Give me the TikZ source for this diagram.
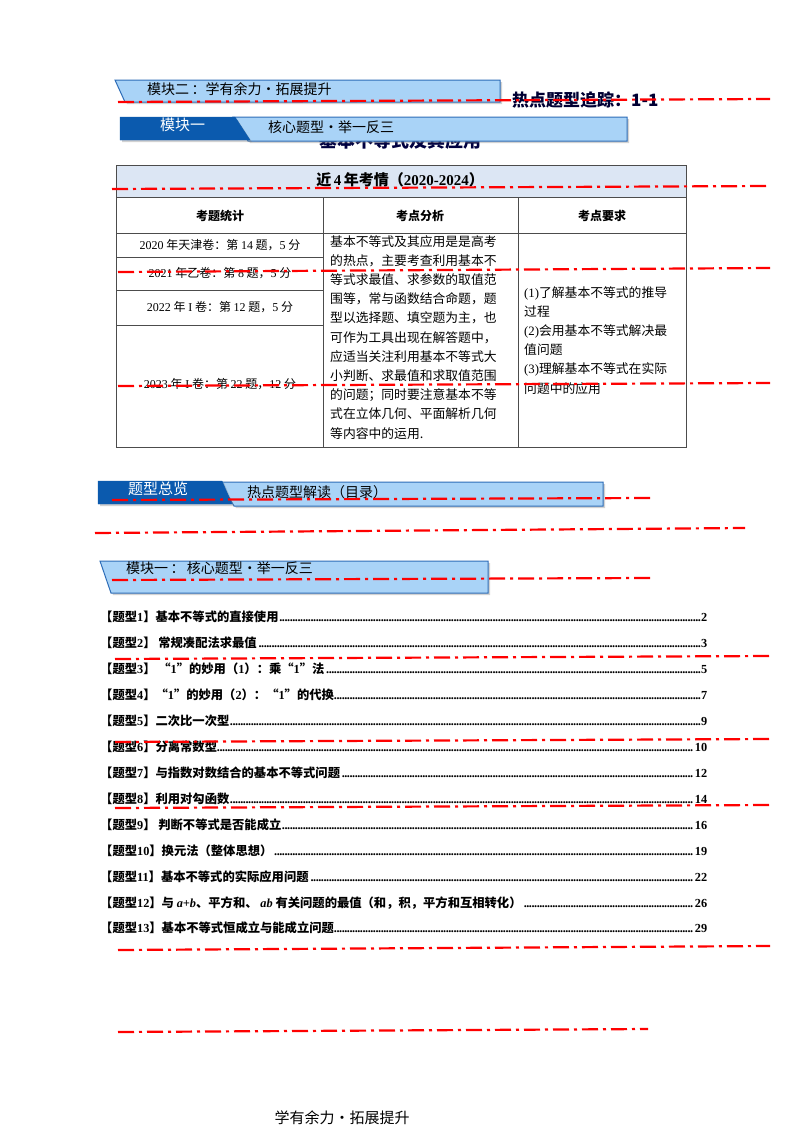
\documentclass[tikz,border=0pt]{standalone}
\usepackage{fontspec}
\setmainfont{Noto Sans CJK SC}
\newfontfamily\serifnum{Liberation Serif}
\usetikzlibrary{shadows}
\definecolor{lb}{HTML}{A9D3F7}
\definecolor{db}{HTML}{0B5AAE}
\definecolor{bd}{HTML}{2E6DB8}
\definecolor{tt}{HTML}{DCE6F4}
\newcommand{\densedots}{\leaders\hbox to 2.6pt{\hss\serifnum .\hss}\hfill}
\tikzset{
  x=1pt,y=-1pt,
  redl/.style={red, line width=2.2pt, dash pattern=on 16pt off 5pt on 3pt off 5pt},
  light/.style={fill=lb, draw=bd, line width=1pt, drop shadow={shadow xshift=2pt,shadow yshift=-2pt,opacity=0.35}},
  dark/.style={fill=db, draw=db, drop shadow={shadow xshift=2pt,shadow yshift=-2pt,opacity=0.35}},
  btxt/.style={anchor=west, font=\fontsize{14}{16}\selectfont, inner sep=0pt},
  wtxt/.style={anchor=west, font=\fontsize{15}{17}\selectfont, text=white, inner sep=0pt},
  cell/.style={draw=black!70, line width=0.8pt},
  item/.style={anchor=west, inner sep=0pt, font=\bfseries\fontsize{12.3}{14}\selectfont},
  tc/.style={font=\fontsize{12}{14}\selectfont, inner sep=0pt},
  th/.style={font=\bfseries\fontsize{12}{14}\selectfont, inner sep=0pt},
}
\begin{document}
\begin{tikzpicture}
\useasboundingbox (0,0) rectangle (800,1132);
\fill[white] (0,0) rectangle (800,1132);
% header banner A
\path[light] (115,80) -- (500,80) -- (500,102) -- (125,102) -- cycle;
\node[btxt] (ba) at (147,89) {模块二\,：学有余力·拓展提升};
\node[anchor=west, inner sep=0pt, font=\bfseries\fontsize{17}{19}\selectfont, text=black!80!blue] (hot) at (512,100) {热点题型追踪：1-1};
% hidden title
\node[inner sep=0pt, font=\bfseries\fontsize{18}{20}\selectfont, text=black!75!blue] (ttl) at (400,141) {基本不等式及其应用};
% banner B
\path[light] (233,117) -- (627,117) -- (627,141) -- (248,141) -- cycle;
\path[dark] (120,117) -- (235,117) -- (250,140) -- (120,140) -- cycle;
\node[wtxt] (bb1) at (160,125) {模块一};
\node[btxt] (bb2) at (268,127) {核心题型·举一反三};
% table
\fill[tt] (116,165) rectangle (686,197);
\draw[cell] (116,165) rectangle (686,447);
\draw[cell] (116,197) -- (686,197);
\draw[cell] (116,233) -- (686,233);
\draw[cell] (323,197) -- (323,447) (518,197) -- (518,447);
\draw[cell] (116,257) -- (323,257) (116,290) -- (323,290) (116,325) -- (323,325);
\node[font=\bfseries\fontsize{15}{17}\selectfont] (th) at (400,180) {近\,{\serifnum\bfseries 4}\,年考情（{\serifnum\bfseries 2020-2024}）};
\node[th] (h1) at (220,216) {考题统计};
\node[th] (h2) at (420,216) {考点分析};
\node[th] (h3) at (602,216) {考点要求};
\node[tc] (r1) at (220,245) {{\serifnum 2020} 年天津卷：第 {\serifnum 14} 题，{\serifnum 5} 分};
\node[tc] (r2) at (220,273) {{\serifnum 2021} 年乙卷：第 {\serifnum 8} 题，{\serifnum 5} 分};
\node[tc] (r3) at (220,307) {{\serifnum 2022} 年 {\serifnum I} 卷：第 {\serifnum 12} 题，{\serifnum 5} 分};
\node[tc] (r4) at (220,384) {{\serifnum 2023} 年 {\serifnum I} 卷：第 {\serifnum 22} 题，{\serifnum 12} 分};
\node[tc, anchor=north west, align=left, font=\fontsize{12.8}{19.2}\selectfont] (an) at (330,235) {基本不等式及其应用是是高考\\的热点，主要考查利用基本不\\等式求最值、求参数的取值范\\围等，常与函数结合命题，题\\型以选择题、填空题为主，也\\可作为工具出现在解答题中，\\应适当关注利用基本不等式大\\小判断、求最值和求取值范围\\的问题；同时要注意基本不等\\式在立体几何、平面解析几何\\等内容中的运用.};
\node[tc, anchor=north west, align=left, font=\fontsize{12.8}{19.2}\selectfont] (rq) at (524,286) {{\serifnum (1)}了解基本不等式的推导\\过程\\{\serifnum (2)}会用基本不等式解决最\\值问题\\{\serifnum (3)}理解基本不等式在实际\\问题中的应用};
% banner C
\path[light] (220,482) -- (603,482) -- (603,506) -- (234,506) -- cycle;
\path[dark] (98,481) -- (222,481) -- (232,504) -- (98,504) -- cycle;
\node[wtxt] (bc1) at (128,489) {题型总览};
\node[btxt] (bc2) at (247,492) {热点题型解读（目录）};
% banner D
\path[light] (100,561) -- (488,561) -- (488,593) -- (111,593) -- cycle;
\node[btxt] (bd1) at (126,568) {模块一\,：\,核心题型·举一反三};
% list
\foreach \yy/\tx/\pg in {
 617/{【题型{\serifnum\bfseries 1}】基本不等式的直接使用}/2,
 643/{【题型{\serifnum\bfseries 2}】\ 常规凑配法求最值}/3,
 669/{【题型{\serifnum\bfseries 3}】\ “{\serifnum\bfseries 1}”的妙用（{\serifnum\bfseries 1}）：乘“{\serifnum\bfseries 1}”法}/5,
 695/{【题型{\serifnum\bfseries 4}】“{\serifnum\bfseries 1}”的妙用（{\serifnum\bfseries 2}）：“{\serifnum\bfseries 1}”的代换}/7,
 721/{【题型{\serifnum\bfseries 5}】二次比一次型}/9,
 747/{【题型{\serifnum\bfseries 6}】分离常数型}/10,
 773/{【题型{\serifnum\bfseries 7}】与指数对数结合的基本不等式问题}/12,
 799/{【题型{\serifnum\bfseries 8}】利用对勾函数}/14,
 825/{【题型{\serifnum\bfseries 9}】\ 判断不等式是否能成立}/16,
 851/{【题型{\serifnum\bfseries 10}】换元法（整体思想）}/19,
 877/{【题型{\serifnum\bfseries 11}】基本不等式的实际应用问题}/22,
 903/{【题型{\serifnum\bfseries 12}】与 {\serifnum\itshape a+b}、平方和、 {\serifnum\itshape ab} 有关问题的最值（和，积，平方和互相转化）}/26,
 928/{【题型{\serifnum\bfseries 13}】基本不等式恒成立与能成立问题}/29}{
 \node[item] (L\yy) at (100,\yy) {\makebox[607pt][l]{\tx\densedots{\serifnum\bfseries\pg}}};
}
% footer
\node[font=\fontsize{15}{17}\selectfont] (ft) at (342,1118) {学有余力·拓展提升};
% red dash-dot lines
\draw[redl] (118,102) -- (770,99);
\draw[redl] (112,189) -- (770,186);
\draw[redl] (118,272) -- (770,268);
\draw[redl] (118,386) -- (770,383);
\draw[redl] (112,500) -- (650,498);
\draw[redl] (95,533) -- (745,528);
\draw[redl] (112,580) -- (650,578);
\draw[redl] (115,659) -- (770,656);
\draw[redl] (115,742) -- (770,739);
\draw[redl] (115,808) -- (770,805);
\draw[redl] (118,950) -- (770,946);
\draw[redl] (118,1032) -- (648,1029);
\end{tikzpicture}
\end{document}
